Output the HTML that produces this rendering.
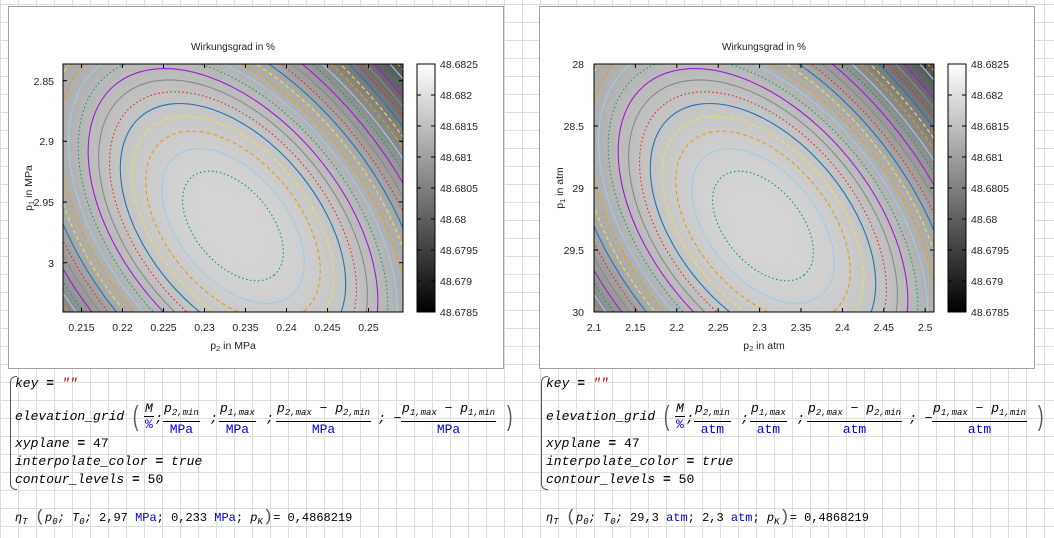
<!DOCTYPE html>
<html><head><meta charset="utf-8">
<style>
html,body{margin:0;padding:0}
body{width:1054px;height:538px;position:relative;overflow:hidden;background-color:#fff;
background-image:linear-gradient(#dedede 1px,transparent 1px),linear-gradient(90deg,#dedede 1px,transparent 1px);
background-size:18px 18px;background-position:0 4px;font-family:"Liberation Sans",sans-serif}
.panel{position:absolute;top:6px;width:496px;height:363px;background:#fff;border:1px solid #a0a0a0;box-sizing:border-box}
svg{position:absolute;left:0;top:0}
.f{position:absolute;font-family:"Liberation Mono",monospace;font-style:italic;font-size:13px;color:#000;white-space:nowrap;line-height:14px}
.b{color:#0000e0;font-style:normal}
.r{color:#c00000}
.s{font-size:9px;vertical-align:-3px}
.frac{position:absolute;text-align:center;font-family:"Liberation Mono",monospace;font-size:13px;line-height:15px;white-space:nowrap}
.frac .num{font-style:italic;border-bottom:1px solid #000;padding:0 1px}
.frac .den{color:#0000e0}
.brace{position:absolute;width:6px;border:1px solid #555;border-right:none;border-radius:6px 0 0 6px}
.p{position:absolute;font-family:"Liberation Sans",sans-serif;font-size:28px;line-height:30px;color:#555;transform:scaleX(0.6)}
</style></head><body>
<div class="panel" style="left:8px"></div>
<div class="panel" style="left:539px"></div>

<svg width="1054" height="538" viewBox="0 0 1054 538" id="sv" font-family="Liberation Sans, sans-serif" font-size="10.5">
<defs>
<radialGradient id="rg1" gradientUnits="userSpaceOnUse" cx="0" cy="0" r="6.2" gradientTransform="translate(233,226) rotate(50) scale(64,38)">
<stop offset="0" stop-color="#d6d6d6"/><stop offset="0.2" stop-color="#d0d0d0"/><stop offset="0.4" stop-color="#c2c2c2"/>
<stop offset="0.6" stop-color="#a8a8a8"/><stop offset="0.7" stop-color="#979797"/><stop offset="0.8" stop-color="#818181"/>
<stop offset="0.9" stop-color="#686868"/><stop offset="1" stop-color="#4c4c4c"/></radialGradient>
<radialGradient id="rg2" gradientUnits="userSpaceOnUse" cx="0" cy="0" r="6.2" gradientTransform="translate(763,226) rotate(50) scale(64,38)">
<stop offset="0" stop-color="#d6d6d6"/><stop offset="0.2" stop-color="#d0d0d0"/><stop offset="0.4" stop-color="#c2c2c2"/>
<stop offset="0.6" stop-color="#a8a8a8"/><stop offset="0.7" stop-color="#979797"/><stop offset="0.8" stop-color="#818181"/>
<stop offset="0.9" stop-color="#686868"/><stop offset="1" stop-color="#4c4c4c"/></radialGradient>
<linearGradient id="cb" x1="0" y1="0" x2="0" y2="1"><stop offset="0" stop-color="#fff"/><stop offset="1" stop-color="#000"/></linearGradient>
<clipPath id="c1"><rect x="63" y="64" width="340" height="248"/></clipPath>
<clipPath id="c2"><rect x="594" y="64" width="340" height="248"/></clipPath>
</defs>
<rect x="63" y="64" width="340" height="248" fill="url(#rg1)"/>
<rect x="594" y="64" width="340" height="248" fill="url(#rg2)"/>
<g clip-path="url(#c1)"><g id="e1" transform="translate(233,226) rotate(50) scale(64,38)"></g></g>
<g clip-path="url(#c2)"><g id="e2" transform="translate(763,226) rotate(50) scale(64,38)"></g></g>
<g stroke="#000" stroke-width="1" fill="none">
<rect x="63" y="64" width="340" height="248"/>
<rect x="594" y="64" width="340" height="248"/>
<rect x="417" y="64" width="18" height="248" fill="url(#cb)"/>
<rect x="948" y="64" width="18" height="248" fill="url(#cb)"/>
</g>
<g id="ticks" stroke="#000" stroke-width="1"></g>
<g fill="#222" font-size="10.5">
<text x="233" y="50" text-anchor="middle" font-size="10">Wirkungsgrad in %</text>
<text x="764" y="50" text-anchor="middle" font-size="10">Wirkungsgrad in %</text>
<g text-anchor="middle">
<text x="81.5" y="331">0.215</text><text x="122.5" y="331">0.22</text><text x="163.5" y="331">0.225</text><text x="204.5" y="331">0.23</text><text x="245.5" y="331">0.235</text><text x="286.5" y="331">0.24</text><text x="327.5" y="331">0.245</text><text x="368.5" y="331">0.25</text>
<text x="594" y="331">2.1</text><text x="635.4" y="331">2.15</text><text x="676.8" y="331">2.2</text><text x="718.2" y="331">2.25</text><text x="759.6" y="331">2.3</text><text x="801" y="331">2.35</text><text x="842.4" y="331">2.4</text><text x="883.8" y="331">2.45</text><text x="925.2" y="331">2.5</text>
<text x="233" y="349">p<tspan font-size="7.5" dy="2">2</tspan><tspan dy="-2"> in MPa</tspan></text>
<text x="764" y="349">p<tspan font-size="7.5" dy="2">2</tspan><tspan dy="-2"> in atm</tspan></text>
</g>
<g text-anchor="end">
<text x="54" y="85">2.85</text><text x="54" y="145">2.9</text><text x="54" y="206">2.95</text><text x="54" y="267">3</text>
<text x="584" y="68">28</text><text x="584" y="130">28.5</text><text x="584" y="192">29</text><text x="584" y="254">29.5</text><text x="584" y="316">30</text>
</g>
<text transform="translate(32,188) rotate(-90)" text-anchor="middle">p<tspan font-size="7.5" dy="2">1</tspan><tspan dy="-2"> in MPa</tspan></text>
<text transform="translate(563,188) rotate(-90)" text-anchor="middle">p<tspan font-size="7.5" dy="2">1</tspan><tspan dy="-2"> in atm</tspan></text>
<g>
<text x="440" y="68">48.6825</text><text x="440" y="99">48.682</text><text x="440" y="130">48.6815</text><text x="440" y="161">48.681</text><text x="440" y="192">48.6805</text><text x="440" y="223">48.68</text><text x="440" y="254">48.6795</text><text x="440" y="285">48.679</text><text x="440" y="316">48.6785</text>
<text x="971" y="68">48.6825</text><text x="971" y="99">48.682</text><text x="971" y="130">48.6815</text><text x="971" y="161">48.681</text><text x="971" y="192">48.6805</text><text x="971" y="223">48.68</text><text x="971" y="254">48.6795</text><text x="971" y="285">48.679</text><text x="971" y="316">48.6785</text>
</g>
</g>
</svg>

<div class="brace" style="left:10px;top:376px;height:112px"></div>
<div class="f" style="left:15px;top:377px">key <b>=</b> <span class="r">""</span></div>
<div class="f" style="left:15px;top:410px">elevation_grid</div>
<div class="p" style="left:131px;top:401px">(</div>
<div class="frac" style="left:144px;top:401px"><div class="num">M</div><div class="den">%</div></div>
<div class="f" style="left:155px;top:412px">;</div>
<div class="frac" style="left:163px;top:401px"><div class="num">p<span class="s">2,min</span></div><div class="den">MPa</div></div>
<div class="f" style="left:210px;top:412px">;</div>
<div class="frac" style="left:219px;top:401px"><div class="num">p<span class="s">1,max</span></div><div class="den">MPa</div></div>
<div class="f" style="left:266px;top:412px">;</div>
<div class="frac" style="left:276px;top:401px"><div class="num">p<span class="s">2,max</span> − p<span class="s">2,min</span></div><div class="den">MPa</div></div>
<div class="f" style="left:378px;top:412px">; −</div>
<div class="frac" style="left:401px;top:401px"><div class="num">p<span class="s">1,max</span> − p<span class="s">1,min</span></div><div class="den">MPa</div></div>
<div class="p" style="left:505px;top:401px">)</div>
<div class="f" style="left:15px;top:437px">xyplane <b>=</b> <span style="font-style:normal">47</span></div>
<div class="f" style="left:15px;top:455px">interpolate_color <b>=</b> true</div>
<div class="f" style="left:15px;top:473px">contour_levels <b>=</b> <span style="font-style:normal">50</span></div>
<div class="f" style="left:15px;top:511px;font-size:12px">η<span class="s">T</span> <span style="font-size:17px;font-style:normal;color:#555">(</span>p<span class="s">0</span>; T<span class="s">0</span>; <span style="font-style:normal">2,97 <span class="b">MPa</span>; 0,233 <span class="b">MPa</span>;</span> p<span class="s">K</span><span style="font-size:17px;font-style:normal;color:#555">)</span><span style="font-style:normal">= 0,4868219</span></div>

<div class="brace" style="left:541px;top:376px;height:112px"></div>
<div class="f" style="left:546px;top:377px">key <b>=</b> <span class="r">""</span></div>
<div class="f" style="left:546px;top:410px">elevation_grid</div>
<div class="p" style="left:662px;top:401px">(</div>
<div class="frac" style="left:675px;top:401px"><div class="num">M</div><div class="den">%</div></div>
<div class="f" style="left:686px;top:412px">;</div>
<div class="frac" style="left:694px;top:401px"><div class="num">p<span class="s">2,min</span></div><div class="den">atm</div></div>
<div class="f" style="left:741px;top:412px">;</div>
<div class="frac" style="left:750px;top:401px"><div class="num">p<span class="s">1,max</span></div><div class="den">atm</div></div>
<div class="f" style="left:797px;top:412px">;</div>
<div class="frac" style="left:807px;top:401px"><div class="num">p<span class="s">2,max</span> − p<span class="s">2,min</span></div><div class="den">atm</div></div>
<div class="f" style="left:909px;top:412px">; −</div>
<div class="frac" style="left:932px;top:401px"><div class="num">p<span class="s">1,max</span> − p<span class="s">1,min</span></div><div class="den">atm</div></div>
<div class="p" style="left:1036px;top:401px">)</div>
<div class="f" style="left:546px;top:437px">xyplane <b>=</b> <span style="font-style:normal">47</span></div>
<div class="f" style="left:546px;top:455px">interpolate_color <b>=</b> true</div>
<div class="f" style="left:546px;top:473px">contour_levels <b>=</b> <span style="font-style:normal">50</span></div>
<div class="f" style="left:546px;top:511px;font-size:12px">η<span class="s">T</span> <span style="font-size:17px;font-style:normal;color:#555">(</span>p<span class="s">0</span>; T<span class="s">0</span>; <span style="font-style:normal">29,3 <span class="b">atm</span>; 2,3 <span class="b">atm</span>;</span> p<span class="s">K</span><span style="font-size:17px;font-style:normal;color:#555">)</span><span style="font-style:normal">= 0,4868219</span></div>

<script>
var NS="http://www.w3.org/2000/svg";
var cyc=[["#009e73","1.5,2.5"],["#9fcbe6",""],["#e69f00","4,3"],["#f0e442","4,3"],["#1f78b4",""],["#e5261a","1.5,2.5"],["#8a8a8a",""],["#9a1fd0",""]];
["e1","e2"].forEach(function(id){
 var g=document.getElementById(id);
 for(var k=1;k<=40;k++){
  var e=document.createElementNS(NS,"ellipse");
  var r=Math.sqrt(k)*(1+0.008*Math.max(0,k-6));
  e.setAttribute("rx",r);e.setAttribute("ry",r);
  var c=cyc[(k-1)%8];
  e.setAttribute("fill","none");e.setAttribute("stroke",c[0]);
  e.setAttribute("stroke-width","1.1");
  e.setAttribute("vector-effect","non-scaling-stroke");
  if(c[1])e.setAttribute("stroke-dasharray",c[1]);
  g.appendChild(e);
 }
});
var t=document.getElementById("ticks");
function L(x1,y1,x2,y2){var l=document.createElementNS(NS,"line");l.setAttribute("x1",x1);l.setAttribute("y1",y1);l.setAttribute("x2",x2);l.setAttribute("y2",y2);t.appendChild(l);}
for(var i=0;i<8;i++){var x=81.5+41*i;L(x,312,x,308);L(x,64,x,68);}
[80.7,141.3,202,262.7].forEach(function(y){L(63,y,67,y);L(403,y,399,y);});
for(var i=0;i<9;i++){var x=594+41.4*i;L(x,312,x,308);L(x,64,x,68);}
for(var i=0;i<5;i++){var y=64+62*i;L(594,y,598,y);L(934,y,930,y);}
for(var i=1;i<8;i++){var y=64+31*i;L(417,y,421,y);L(435,y,431,y);L(948,y,952,y);L(966,y,962,y);}
</script>
</body></html>
